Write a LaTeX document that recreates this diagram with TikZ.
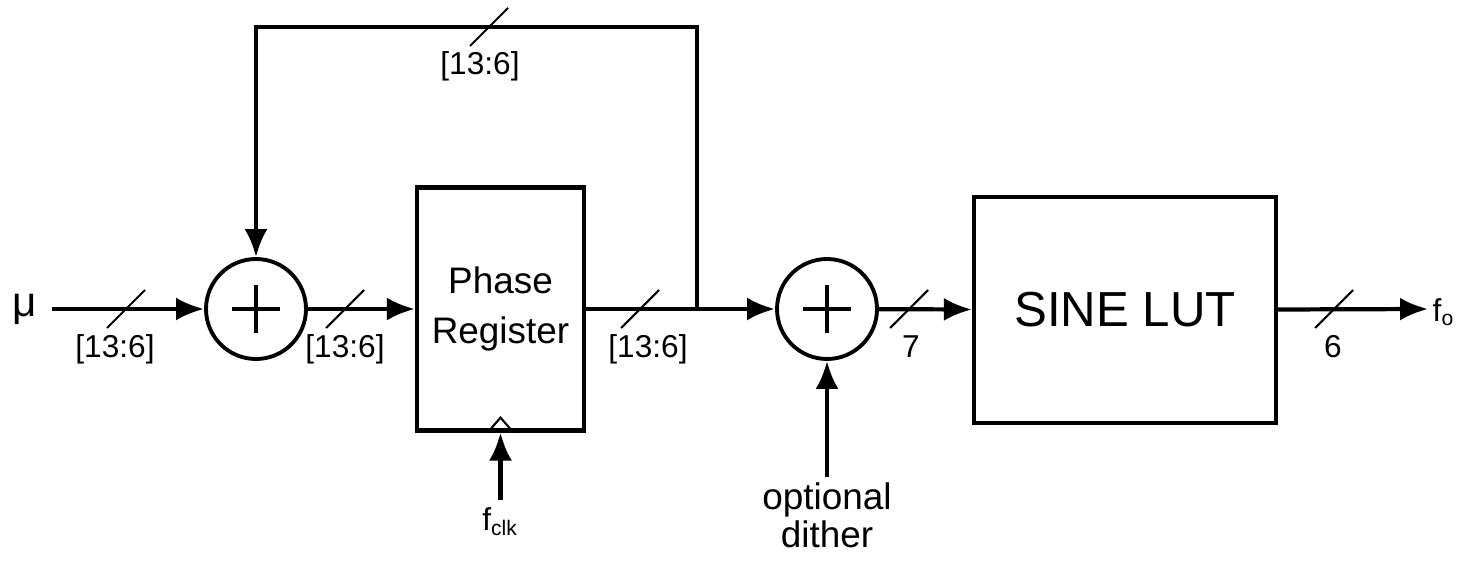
\documentclass[tikz,border=0pt]{standalone}
\usepackage{fontspec}
\setmainfont{Liberation Sans}
\usetikzlibrary{arrows.meta,positioning}

\begin{document}
\begin{tikzpicture}[
x=1cm,
y=1cm,
every node/.style={font=\fontsize{9}{10}\selectfont},
block/.style={rectangle,draw,line width=1.2pt,align=center,inner sep=0pt},
adder/.style={circle,draw,line width=1.1pt,minimum size=1cm,inner sep=0pt},
plusmark/.style={line width=1.1pt},
arr/.style={-{Latex[length=2.8mm,width=2.3mm]},line width=1.2pt},
busmark/.style={line width=0.6pt},
clkmark/.style={line width=0.6pt},
lbl/.style={inner sep=0pt,anchor=base}
]
\useasboundingbox (0,0) rectangle (14.62,5.60);

\node[adder] (add1) at (2.56,2.51) {};
\node[block,minimum width=1.67cm,minimum height=2.43cm,font=\fontsize{10.5}{14}\selectfont] (reg) at (5.005,2.51) {Phase\\Register};
\node[adder] (add2) at (8.27,2.51) {};
\node[block,minimum width=3.02cm,minimum height=2.26cm,font=\fontsize{14}{16}\selectfont] (lut) at (11.25,2.50) {SINE LUT};

\node[lbl,font=\fontsize{12}{12}\selectfont] (mu) at (0.25,2.43) {μ};
\node[lbl,anchor=base west] (fo) at (14.32,2.38) {f\textsubscript{o}};
\node[anchor=north,inner sep=2pt] (fclk) at (5.005,0.60) {f\textsubscript{clk}};
\node[anchor=north,align=center,inner sep=1.5pt,font=\fontsize{10.5}{10.8}\selectfont] (dither) at (8.27,0.83) {optional\\dither};

\coordinate (in) at (0.52,2.51);
\coordinate (out) at (14.28,2.51);
\coordinate (br) at (6.97,2.51);
\coordinate (fbtop) at (4.80,5.33);

% plus signs
\draw[plusmark] ([xshift=-2.4mm]add1.center) -- ([xshift=2.4mm]add1.center);
\draw[plusmark] ([yshift=-2.4mm]add1.center) -- ([yshift=2.4mm]add1.center);
\draw[plusmark] ([xshift=-2.4mm]add2.center) -- ([xshift=2.4mm]add2.center);
\draw[plusmark] ([yshift=-2.4mm]add2.center) -- ([yshift=2.4mm]add2.center);

% clock input
\draw[clkmark] ([xshift=-1.3mm]reg.south) -- ([yshift=1.5mm]reg.south) -- ([xshift=1.3mm]reg.south);

\draw[arr] (in) -- (add1);
\draw[arr] (add1) -- (reg);
\draw[arr] (reg) -- (add2);
\draw[arr] (br) |- (fbtop) -| (add1.north);
\draw[arr] (add2) -- (lut);
\draw[arr] (lut) -- (out);
\draw[arr] (fclk) -- (reg);
\draw[arr] (dither) -- (add2);

% bus widths
\coordinate (b1) at (1.26,2.51);
\coordinate (b2) at (3.45,2.51);
\coordinate (b3) at (6.40,2.51);
\coordinate (b4) at (9.09,2.51);
\coordinate (b5) at (13.34,2.51);
\coordinate (b6) at (4.89,5.33);
\foreach \b in {b1,b2,b3,b4,b5,b6}
  \draw[busmark] (\b) ++(-0.19,-0.19) -- ++(0.38,0.38);

\node[lbl] (w1) at (1.15,2.03) {[13:6]};
\node[lbl] (w2) at (3.45,2.03) {[13:6]};
\node[lbl] (w3) at (6.48,2.03) {[13:6]};
\node[lbl] (w4) at (9.11,2.03) {7};
\node[lbl] (w5) at (13.33,2.03) {6};
\node[lbl] (w6) at (4.80,4.85) {[13:6]};
\end{tikzpicture}
\end{document}
